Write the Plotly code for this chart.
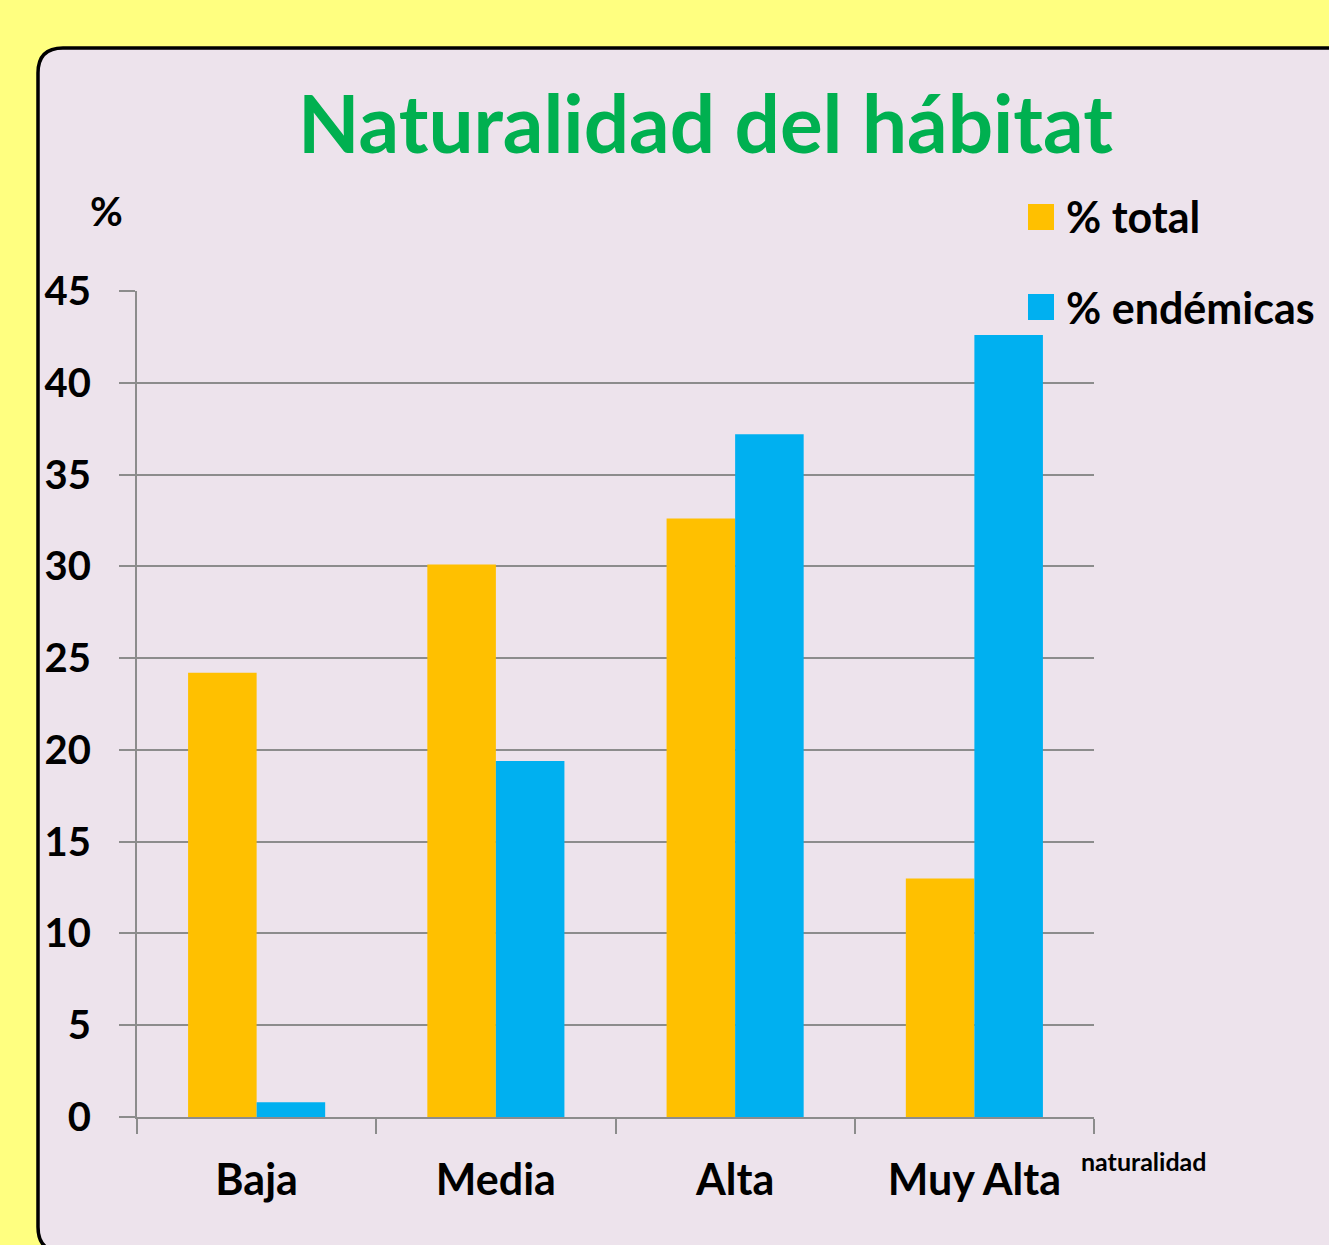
import plotly.graph_objects as go

categories = ["Baja", "Media", "Alta", "Muy Alta"]
series_names = ["% total", "% endémicas"]
total = [24.2, 30.1, 32.6, 13.0]
endemicas = [0.8, 19.4, 37.2, 42.6]
y_ticks = [0, 5, 10, 15, 20, 25, 30, 35, 40, 45]
colors = ["#FFC000", "#00B0F0"]

W, H = 1329, 1245
L, R, T, B = 137, 1094, 291, 1117
FONT = "Lato"

def px(x):
    return (x - L) / (R - L)

def py(y):
    return (B - y) / (B - T)

fig = go.Figure()
for name, vals, col in zip(series_names, [total, endemicas], colors):
    fig.add_trace(go.Bar(x=categories, y=vals, name=name, marker=dict(color=col, line=dict(width=0)),
                         showlegend=False))

# rounded panel
x0, y0, x1, y1, r = 38, 48, 1345, 1252, 25
path = (f"M {px(x0)},{py(y0 + r)} Q {px(x0)},{py(y0)} {px(x0 + r)},{py(y0)} "
        f"L {px(x1)},{py(y0)} L {px(x1)},{py(y1)} L {px(x0 + r)},{py(y1)} "
        f"Q {px(x0)},{py(y1)} {px(x0)},{py(y1 - r)} Z")
shapes = [dict(type="path", path=path, xref="paper", yref="paper", layer="below",
               fillcolor="#EDE3EC", line=dict(color="black", width=3.5))]

annotations = [
    dict(text="Naturalidad del hábitat", x=px(705), y=py(122), xref="paper", yref="paper",
         showarrow=False, xanchor="center", yanchor="middle",
         font=dict(family=FONT, size=80, color="#00B050", weight="bold")),
    dict(text="%", x=px(106), y=py(211), xref="paper", yref="paper",
         showarrow=False, xanchor="center", yanchor="middle",
         font=dict(family=FONT, size=40, color="black", weight="bold")),
    dict(text="naturalidad", x=px(1079), y=py(1161), xref="paper", yref="paper",
         showarrow=False, xanchor="left", yanchor="middle",
         font=dict(family=FONT, size=25, color="black", weight="bold")),
]

# legend
leg_y = [217, 307]
for name, col, ly in zip(series_names, colors, leg_y):
    shapes.append(dict(type="rect", xref="paper", yref="paper",
                       x0=px(1028), x1=px(1054), y0=py(ly - 13), y1=py(ly + 13),
                       fillcolor=col, line=dict(width=0)))
    annotations.append(dict(text=name, x=px(1064), y=py(ly), xref="paper", yref="paper",
                            showarrow=False, xanchor="left", yanchor="middle",
                            font=dict(family=FONT, size=43, color="black", weight="bold")))

fig.update_layout(
    width=W, height=H,
    margin=dict(l=L, r=W - R, t=T, b=H - B, pad=0),
    paper_bgcolor="#FFFF80",
    plot_bgcolor="rgba(0,0,0,0)",
    barmode="group", bargap=0.427, bargroupgap=0,
    shapes=shapes, annotations=annotations,
    showlegend=False,
    xaxis=dict(showgrid=False, showline=True, linecolor="#8C8C8C", linewidth=2,
               ticks="outside", tickson="boundaries", ticklen=15, tickwidth=2, tickcolor="#8C8C8C",
               tickfont=dict(family=FONT, size=43, color="black", weight="bold"), ticklabelstandoff=24),
    yaxis=dict(range=[0, 45], tickvals=y_ticks, showgrid=True, gridcolor="#8C8C8C", gridwidth=2,
               showline=True, linecolor="#8C8C8C", linewidth=2, zeroline=False,
               ticks="outside", ticklen=16, tickwidth=2, tickcolor="#8C8C8C",
               tickfont=dict(family=FONT, size=40, color="black", weight="bold"), ticklabelstandoff=20),
)

fig.write_html("out.html", config={"displayModeBar": False},
               post_script="document.body.style.margin='0';document.body.style.overflow='hidden';")
